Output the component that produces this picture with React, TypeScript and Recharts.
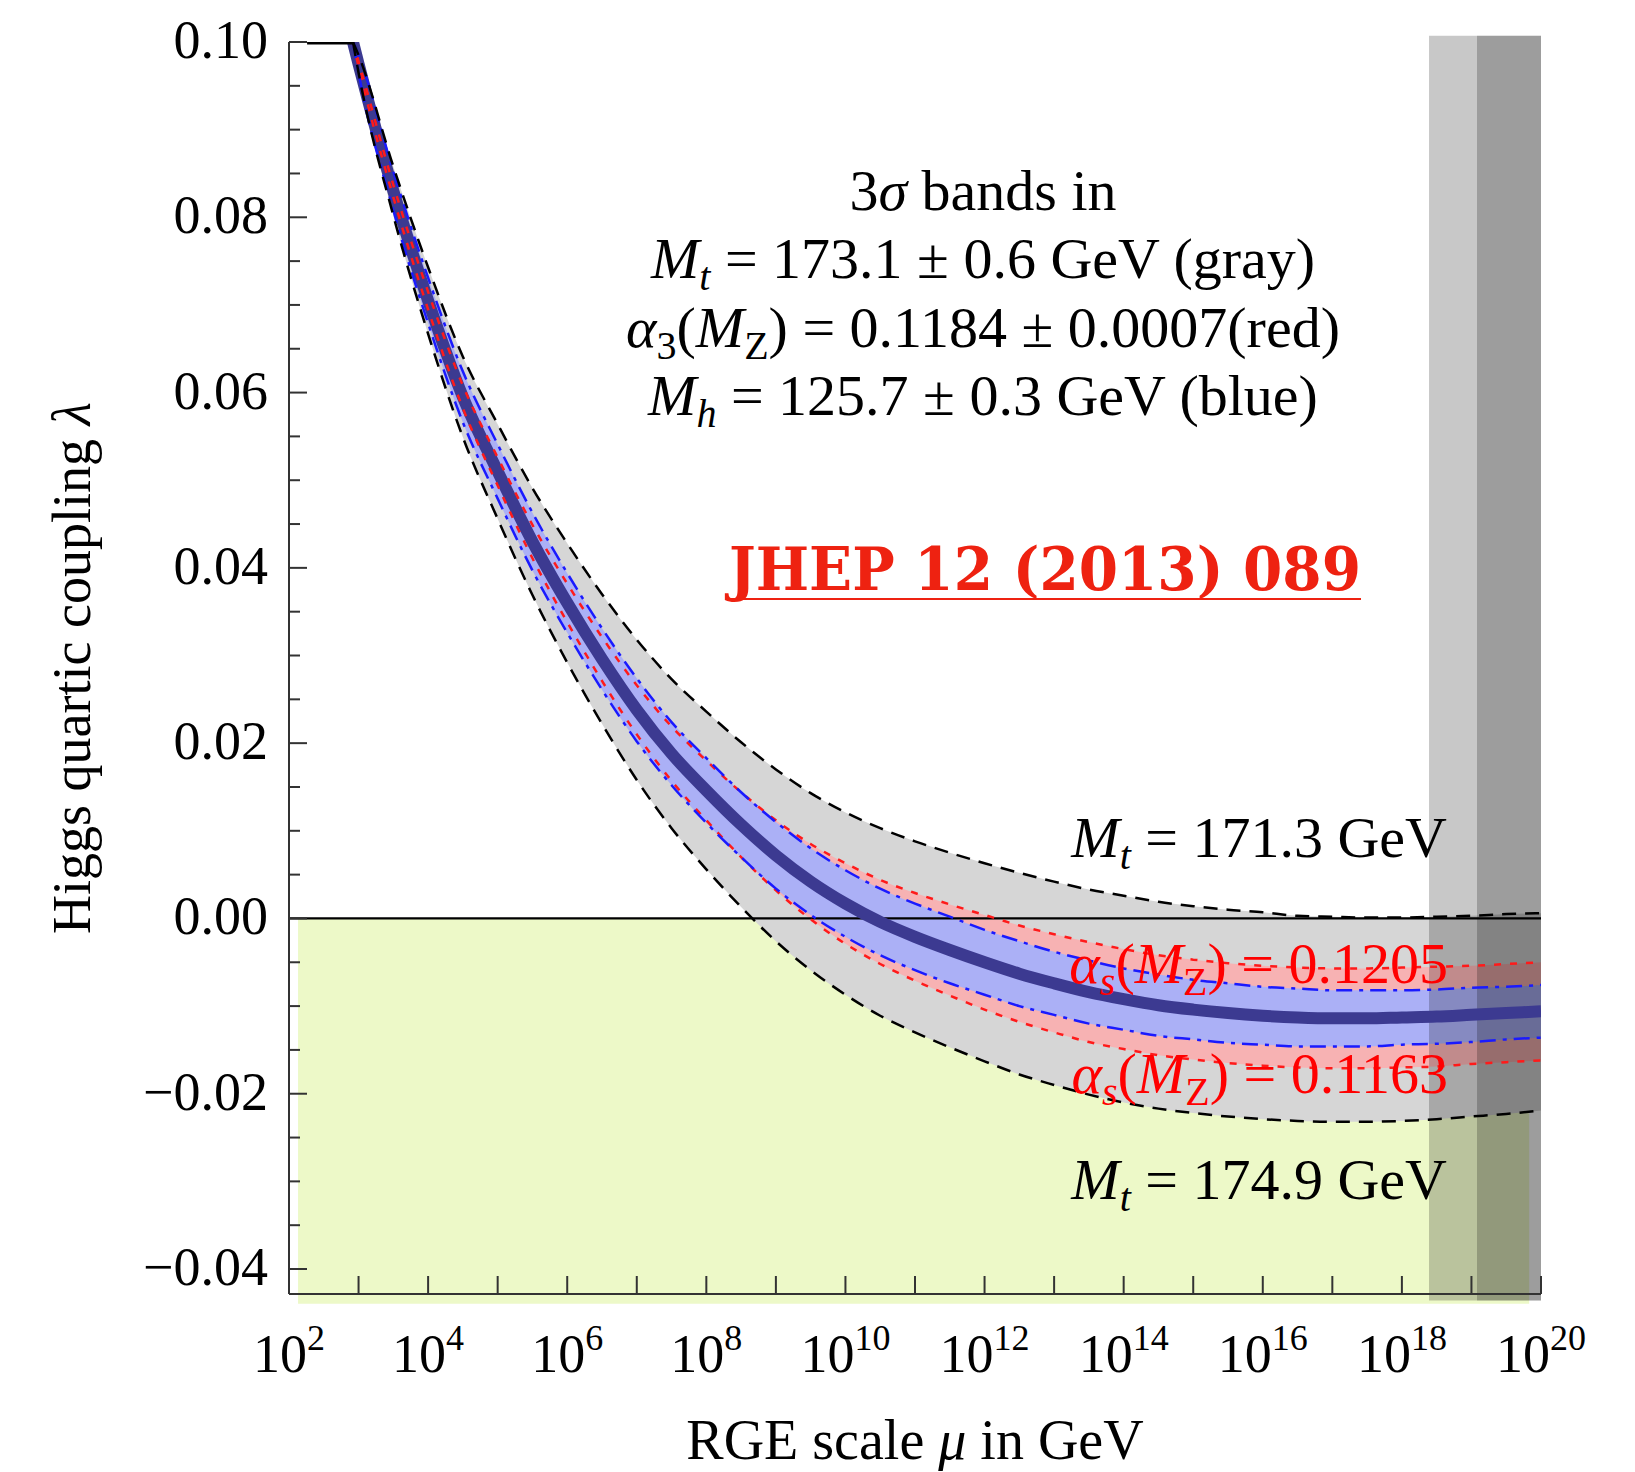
import React from "react";
import {
  ComposedChart,
  Area,
  Line,
  XAxis,
  YAxis,
  ReferenceArea,
  ReferenceLine,
} from "recharts";

// log10 of the RGE scale mu (GeV)
const muLog = [
  2.92, 3, 3.5, 4, 4.5, 5, 5.5, 6, 6.5, 7, 7.5, 8, 8.5, 9, 9.5, 10, 10.5, 11,
  11.5, 12, 12.5, 13, 13.5, 14, 14.5, 15, 15.5, 16, 16.5, 17, 17.5, 18, 18.5,
  19, 19.5, 20,
];

// central value of lambda
const lambdaCentral = [
  0.1, 0.0975, 0.083, 0.0705, 0.0595, 0.051, 0.043, 0.036, 0.0296, 0.0238,
  0.0188, 0.0146, 0.0107, 0.0072, 0.0042, 0.0017, -0.0004, -0.0021, -0.0036,
  -0.005, -0.0063, -0.0074, -0.0084, -0.0092, -0.0099, -0.0104, -0.0108,
  -0.0111, -0.0113, -0.0114, -0.0114, -0.0113, -0.0112, -0.011, -0.0108,
  -0.0106,
];

// Mt = 171.3 GeV (upper) and 174.9 GeV (lower)
const mtHi = [
  0.1, 0.0985, 0.0858, 0.0743, 0.0641, 0.0564, 0.0491, 0.0428, 0.037, 0.0318,
  0.0273, 0.0236, 0.0201, 0.017, 0.0143, 0.0121, 0.0103, 0.0088, 0.0075,
  0.0063, 0.0052, 0.0042, 0.0033, 0.0026, 0.0019, 0.0014, 0.001, 0.0007,
  0.0003, 0.0002, 0.0001, 0.0001, 0.0002, 0.0003, 0.0005, 0.0006,
];
const mtLo = [
  0.1, 0.0965, 0.0802, 0.0667, 0.0549, 0.0456, 0.0369, 0.0292, 0.0222, 0.0158,
  0.0103, 0.0056, 0.0013, -0.0026, -0.0059, -0.0087, -0.0111, -0.013, -0.0147,
  -0.0163, -0.0178, -0.019, -0.0201, -0.021, -0.0217, -0.0222, -0.0226,
  -0.0229, -0.0231, -0.0232, -0.0232, -0.0231, -0.0229, -0.0226, -0.0223,
  -0.0219,
];

// alpha_s = 0.1205 (upper) and 0.1163 (lower)
const asHi = [
  0.1, 0.0978, 0.0837, 0.0715, 0.0608, 0.0526, 0.0449, 0.0382, 0.0321, 0.0266,
  0.0219, 0.018, 0.0144, 0.0112, 0.0085, 0.0063, 0.0044, 0.0029, 0.0016,
  0.0004, -0.0008, -0.0018, -0.0027, -0.0035, -0.0042, -0.0047, -0.0051,
  -0.0054, -0.0056, -0.0057, -0.0057, -0.0056, -0.0055, -0.0054, -0.0052,
  -0.005,
];
const asLo = [
  0.1, 0.0972, 0.0823, 0.0695, 0.0582, 0.0494, 0.0411, 0.0338, 0.0271, 0.021,
  0.0157, 0.0112, 0.007, 0.0032, -0.0001, -0.0029, -0.0052, -0.0071, -0.0088,
  -0.0104, -0.0118, -0.013, -0.0141, -0.0149, -0.0156, -0.0161, -0.0165,
  -0.0168, -0.017, -0.0171, -0.0171, -0.017, -0.0169, -0.0166, -0.0164,
  -0.0162,
];

// Mh band edges
const mhHi = [
  0.1, 0.0985, 0.0852, 0.0731, 0.0624, 0.0541, 0.0463, 0.0394, 0.0331, 0.0274,
  0.0224, 0.0183, 0.0144, 0.011, 0.008, 0.0055, 0.0034, 0.0017, 0.0002,
  -0.0013, -0.0026, -0.0038, -0.0048, -0.0057, -0.0064, -0.007, -0.0074,
  -0.0078, -0.008, -0.0082, -0.0082, -0.0082, -0.0081, -0.0079, -0.0078,
  -0.0076,
];
const mhLo = [
  0.1, 0.0965, 0.0808, 0.0679, 0.0566, 0.0479, 0.0397, 0.0326, 0.0261, 0.0202,
  0.0152, 0.0109, 0.007, 0.0034, 0.0004, -0.0021, -0.0042, -0.0059, -0.0074,
  -0.0087, -0.01, -0.011, -0.012, -0.0127, -0.0134, -0.0138, -0.0142, -0.0144,
  -0.0146, -0.0146, -0.0146, -0.0144, -0.0143, -0.0141, -0.0138, -0.0136,
];

// part of the curves clipped at the top of the frame
const clipTop = [
  { L: 2.26, v: 0.1 },
  { L: 2.92, v: 0.1 },
];

const xTicks = [2, 3, 4, 5, 6, 7, 8, 9, 10, 11, 12, 13, 14, 15, 16, 17, 18, 19, 20];
const yTicks = [
  -0.04, -0.035, -0.03, -0.025, -0.02, -0.015, -0.01, -0.005, 0, 0.005, 0.01,
  0.015, 0.02, 0.025, 0.03, 0.035, 0.04, 0.045, 0.05, 0.055, 0.06, 0.065, 0.07,
  0.075, 0.08, 0.085, 0.09, 0.095, 0.1,
];

const stabilityX = [2.13, 19.83];
const planckLight = [18.39, 20];
const planckDark = [19.08, 20];

const data = muLog.map((L, i) => ({
  L,
  central: lambdaCentral[i],
  mtHi: mtHi[i],
  mtLo: mtLo[i],
  asHi: asHi[i],
  asLo: asLo[i],
  mhHi: mhHi[i],
  mhLo: mhLo[i],
  mt: [mtLo[i], mtHi[i]],
  as: [asLo[i], asHi[i]],
  mh: [mhLo[i], mhHi[i]],
}));

const serif = "'Liberation Serif', 'Times New Roman', serif";
const frame = "#333";

const isMajor = (v: number) => Math.abs(v * 50 - Math.round(v * 50)) < 1e-6;
const fmtY = (v: number) =>
  (v < -1e-9 ? "\u2212" : "") + Math.abs(v).toFixed(2);

const BottomTick = ({ x, y, payload }: any) => {
  const v = payload.value;
  return (
    <g>
      <line x1={x} x2={x} y1={y} y2={y - 18} stroke={frame} strokeWidth={2} />
      {v % 2 === 0 && (
        <text x={x} y={y + 78} textAnchor="middle" fontFamily={serif} fontSize={54} fill="#000">
          10
          <tspan fontSize={36} dy={-22}>
            {v}
          </tspan>
        </text>
      )}
    </g>
  );
};

const TopTick = ({ x, y }: any) => (
  <line x1={x} x2={x} y1={y} y2={y + 18} stroke={frame} strokeWidth={2} />
);

const LeftTick = ({ x, y, payload }: any) => {
  const v = payload.value;
  const major = isMajor(v);
  return (
    <g>
      <line x1={x} x2={x + (major ? 18 : 11)} y1={y} y2={y} stroke={frame} strokeWidth={2} />
      {major && (
        <text x={x - 21} y={y + 16} textAnchor="end" fontFamily={serif} fontSize={54} fill="#000">
          {fmtY(v)}
        </text>
      )}
    </g>
  );
};

const RightTick = ({ x, y, payload }: any) => {
  const major = isMajor(payload.value);
  return (
    <line x1={x} x2={x - (major ? 18 : 11)} y1={y} y2={y} stroke={frame} strokeWidth={2} />
  );
};

// segments: [text, style]; style "i" italic, "s" subscript, "si" italic subscript
type Seg = [string, string?];
const MathText = ({ segs, ...rest }: { segs: Seg[]; [k: string]: any }) => {
  let shift = 0;
  return (
    <text {...rest}>
      {segs.map(([t, st = ""], k) => {
        const sub = st.includes("s");
        const target = sub ? 12 : 0;
        const dy = target - shift;
        shift = target;
        return (
          <tspan
            key={k}
            dy={dy || undefined}
            fontSize={sub ? 40 : undefined}
            fontStyle={st.includes("i") ? "italic" : undefined}
          >
            {t}
          </tspan>
        );
      })}
    </text>
  );
};

export default function App() {
  return (
    <div
      style={{
        position: "absolute",
        left: 0,
        top: 0,
        width: 1635,
        height: 1472,
        background: "#fff",
      }}
    >
      <ComposedChart
        width={1635}
        height={1472}
        data={data}
        margin={{ top: 42, right: 94, bottom: 0, left: 0 }}
      >
        <XAxis
          type="number"
          dataKey="L"
          domain={[2, 20]}
          ticks={xTicks}
          interval={0}
          allowDataOverflow
          height={178}
          tickLine={false}
          tickSize={0}
          tickMargin={0}
          axisLine={{ stroke: frame, strokeWidth: 2 }}
          tick={<BottomTick />}
        />
        <XAxis
          xAxisId="top"
          orientation="top"
          type="number"
          dataKey="L"
          domain={[2, 20]}
          ticks={xTicks}
          interval={0}
          allowDataOverflow
          height={0}
          tickLine={false}
          tickSize={0}
          tickMargin={0}
          axisLine={{ stroke: frame, strokeWidth: 2 }}
          tick={<TopTick />}
        />
        <YAxis
          type="number"
          domain={[-0.04285, 0.1]}
          ticks={yTicks}
          interval={0}
          allowDataOverflow
          width={289}
          tickLine={false}
          tickSize={0}
          tickMargin={0}
          axisLine={{ stroke: frame, strokeWidth: 2 }}
          tick={<LeftTick />}
        />
        <YAxis
          yAxisId="right"
          orientation="right"
          type="number"
          domain={[-0.04285, 0.1]}
          ticks={yTicks}
          interval={0}
          allowDataOverflow
          width={0}
          tickLine={false}
          tickSize={0}
          tickMargin={0}
          axisLine={{ stroke: frame, strokeWidth: 2 }}
          tick={<RightTick />}
        />

        <ReferenceArea
          x1={stabilityX[0]}
          x2={stabilityX[1]}
          y1={-0.04395}
          y2={0}
          fill="#edf9c8"
          fillOpacity={1}
          stroke="none"
          ifOverflow="visible"
        />

        <Area dataKey="mt" type="monotone" fill="#d6d6d6" fillOpacity={1} stroke="none" isAnimationActive={false} dot={false} activeDot={false} />
        <Area dataKey="as" type="monotone" fill="#f7b2b3" fillOpacity={1} stroke="none" isAnimationActive={false} dot={false} activeDot={false} />
        <Area dataKey="mh" type="monotone" fill="#abb0f6" fillOpacity={1} stroke="none" isAnimationActive={false} dot={false} activeDot={false} />

        <ReferenceLine y={0} stroke="#000" strokeWidth={2.2} />

        <Line dataKey="central" type="monotone" stroke="#3c3a91" strokeWidth={12} dot={false} activeDot={false} isAnimationActive={false} />
        <Line dataKey="asHi" type="monotone" stroke="#ff1a1a" strokeWidth={2.5} strokeDasharray="7 9" dot={false} activeDot={false} isAnimationActive={false} />
        <Line dataKey="asLo" type="monotone" stroke="#ff1a1a" strokeWidth={2.5} strokeDasharray="7 9" dot={false} activeDot={false} isAnimationActive={false} />
        <Line dataKey="mhHi" type="monotone" stroke="#1a1aff" strokeWidth={2.5} strokeDasharray="16 7 4 7" dot={false} activeDot={false} isAnimationActive={false} />
        <Line dataKey="mhLo" type="monotone" stroke="#1a1aff" strokeWidth={2.5} strokeDasharray="16 7 4 7" dot={false} activeDot={false} isAnimationActive={false} />
        <Line dataKey="mtHi" type="monotone" stroke="#000" strokeWidth={2.5} strokeDasharray="14 9" dot={false} activeDot={false} isAnimationActive={false} />
        <Line dataKey="mtLo" type="monotone" stroke="#000" strokeWidth={2.5} strokeDasharray="14 9" dot={false} activeDot={false} isAnimationActive={false} />
        <Line data={clipTop} dataKey="v" stroke="#000" strokeWidth={5} dot={false} activeDot={false} isAnimationActive={false} />

        <ReferenceArea
          x1={planckLight[0]}
          x2={planckLight[1]}
          y1={-0.0436}
          y2={0.1007}
          fill="#000"
          fillOpacity={0.216}
          stroke="none"
          ifOverflow="visible"
        />
        <ReferenceArea
          x1={planckDark[0]}
          x2={planckDark[1]}
          y1={-0.0436}
          y2={0.1007}
          fill="#000"
          fillOpacity={0.216}
          stroke="none"
          ifOverflow="visible"
        />
      </ComposedChart>

      <svg
        width={1635}
        height={1472}
        style={{ position: "absolute", left: 0, top: 0, pointerEvents: "none", whiteSpace: "pre" }}
        fontFamily={serif}
      >
        <g fontSize={58} fill="#000" textAnchor="middle">
          <MathText x={983} y={210} segs={[["3"], ["σ", "i"], [" bands in"]]} />
          <MathText
            x={983}
            y={278}
            segs={[["M", "i"], ["t", "si"], [" = 173.1 ± 0.6 GeV (gray)"]]}
          />
          <MathText
            x={983}
            y={347}
            segs={[
              ["α", "i"],
              ["3", "s"],
              ["("],
              ["M", "i"],
              ["Z", "s"],
              [") = 0.1184 ± 0.0007(red)"],
            ]}
          />
          <MathText
            x={983}
            y={415}
            segs={[["M", "i"], ["h", "si"], [" = 125.7 ± 0.3 GeV (blue)"]]}
          />
        </g>

        <text
          x={729}
          y={590}
          fontFamily="'DejaVu Serif', serif"
          fontWeight="bold"
          fontSize={60}
          fill="#ee2211"
          textLength={632}
          lengthAdjust="spacingAndGlyphs"
        >
          JHEP 12 (2013) 089
        </text>
        <line x1={729} x2={1361} y1={599} y2={599} stroke="#ee2211" strokeWidth={2} />

        <g fontSize={58} textAnchor="end">
          <MathText
            x={1447}
            y={857}
            fill="#000"
            segs={[["M", "i"], ["t", "si"], [" = 171.3 GeV"]]}
          />
          <MathText
            x={1447}
            y={1199}
            fill="#000"
            segs={[["M", "i"], ["t", "si"], [" = 174.9 GeV"]]}
          />
          <MathText
            x={1448}
            y={983}
            fill="#ff0000"
            segs={[["α", "i"], ["s", "si"], ["("], ["M", "i"], ["Z", "s"], [") = 0.1205"]]}
          />
          <MathText
            x={1448}
            y={1093}
            fill="#ff0000"
            segs={[["α", "i"], ["s", "si"], ["("], ["M", "i"], ["Z", "s"], [") = 0.1163"]]}
          />
        </g>

        <MathText
          x={915}
          y={1459}
          textAnchor="middle"
          fontSize={56}
          fill="#000"
          segs={[["RGE scale "], ["μ", "i"], [" in GeV"]]}
        />
        <MathText
          x={90}
          y={668}
          transform="rotate(-90 90 668)"
          textAnchor="middle"
          fontSize={54}
          fill="#000"
          segs={[["Higgs quartic coupling "], ["λ", "i"]]}
        />
      </svg>
    </div>
  );
}
